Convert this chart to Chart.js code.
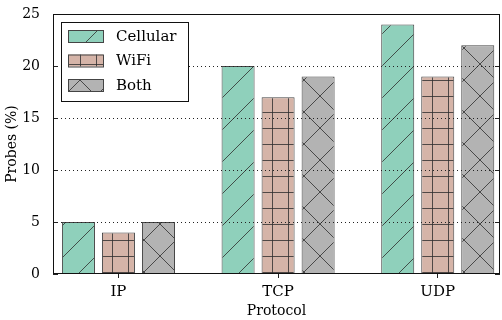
<!DOCTYPE html>
<html>
<head>
<meta charset="utf-8">
<script src="https://cdn.jsdelivr.net/npm/chart.js@4/dist/chart.umd.min.js"></script>
<style>
  html, body { margin: 0; padding: 0; background: #fff; }
  #wrap { width: 502px; height: 320px; }
</style>
</head>
<body>
<div id="wrap"><canvas id="chart" width="502" height="320"></canvas></div>
<script>
// ---- data ----
const categories = ['IP', 'TCP', 'UDP'];
const seriesNames = ['Cellular', 'WiFi', 'Both'];
const cellular = [5, 20, 24];
const wifi = [4, 17, 19];
const both = [5, 19, 22];
const yTicks = [0, 5, 10, 15, 20, 25];

const FONT = 'DejaVu Serif';
const HATCH = 'rgba(45,45,45,0.8)';
const EDGE = '#444';

// ---- hatch patterns (anchored to the canvas like matplotlib hatches) ----
function makeTile(size, bg, draw) {
    const c = document.createElement('canvas');
    c.width = size; c.height = size;
    const g = c.getContext('2d');
    g.fillStyle = bg;
    g.fillRect(0, 0, size, size);
    g.strokeStyle = HATCH;
    g.lineWidth = 1;
    draw(g, size);
    return c;
}

function diag(g, s) {
    // "/" lines, repeated so the tile joins up
    g.beginPath();
    for (let k = -1; k <= 1; k++) {
        g.moveTo(k * s - 1, s + 1);
        g.lineTo(k * s + s + 1, -1);
    }
    g.stroke();
}

function antiDiag(g, s) {
    g.beginPath();
    for (let k = -1; k <= 1; k++) {
        g.moveTo(k * s - 1, -1);
        g.lineTo(k * s + s + 1, s + 1);
    }
    g.stroke();
}

const ctx = document.getElementById('chart').getContext('2d');

const cellTile = makeTile(32, '#8fd0bb', (g, s) => diag(g, s));
const wifiTile = makeTile(16, '#d5b4a8', (g, s) => {
    g.beginPath();
    g.moveTo(0.5, 0); g.lineTo(0.5, s);
    g.moveTo(0, 0.5); g.lineTo(s, 0.5);
    g.stroke();
});
const bothTile = makeTile(32, '#b3b3b3', (g, s) => { diag(g, s); antiDiag(g, s); });

const fills = [
    ctx.createPattern(cellTile, 'repeat'),
    ctx.createPattern(wifiTile, 'repeat'),
    ctx.createPattern(bothTile, 'repeat')
];

// ---- frame, dotted grid, inward ticks, legend ----
const framePlugin = {
    id: 'frame',
    afterDatasetsDraw(chart) {
        const { ctx, chartArea: a, scales } = chart;
        const y = scales.y;
        ctx.save();

        // dotted grid on top of bars (interior ticks only)
        ctx.strokeStyle = '#222';
        ctx.lineWidth = 1;
        ctx.setLineDash([1, 3]);
        yTicks.slice(1, -1).forEach(v => {
            const py = Math.round(y.getPixelForValue(v)) + 0.5;
            ctx.beginPath();
            ctx.moveTo(a.left, py);
            ctx.lineTo(a.right, py);
            ctx.stroke();
        });
        ctx.setLineDash([]);

        // inward tick marks on both sides
        ctx.strokeStyle = '#222';
        yTicks.forEach(v => {
            const py = Math.round(y.getPixelForValue(v)) + 0.5;
            ctx.beginPath();
            ctx.moveTo(a.left, py); ctx.lineTo(a.left + 5, py);
            ctx.moveTo(a.right, py); ctx.lineTo(a.right - 5, py);
            ctx.stroke();
        });

        // box around the plot
        ctx.strokeStyle = '#111';
        ctx.lineWidth = 1;
        ctx.strokeRect(Math.round(a.left) + 0.5, Math.round(a.top) + 0.5,
            Math.round(a.right - a.left) - 1, Math.round(a.bottom - a.top) - 1);

        // legend box, upper left
        const lx = a.left + 8, ly = a.top + 8, lw = 127, lh = 79;
        ctx.fillStyle = '#fff';
        ctx.fillRect(lx, ly, lw, lh);
        ctx.strokeStyle = '#111';
        ctx.strokeRect(lx + 0.5, ly + 0.5, lw, lh);

        ctx.font = `15px "${FONT}"`;
        ctx.textBaseline = 'middle';
        ctx.textAlign = 'left';
        chart.data.datasets.forEach((ds, i) => {
            const cy = ly + 14 + i * 24.5;
            ctx.fillStyle = ds.backgroundColor;
            ctx.fillRect(lx + 7, cy - 6, 35, 12);
            ctx.strokeStyle = EDGE;
            ctx.strokeRect(lx + 7.5, cy - 5.5, 35, 12);
            ctx.fillStyle = '#000';
            ctx.fillText(ds.label, lx + 55, cy + 1);
        });

        ctx.restore();
    }
};

function toPoints(values) {
    return values.map((v, i) => ({ x: i, y: v }));
}

new Chart(ctx, {
    type: 'bar',
    data: {
        datasets: [
            { label: seriesNames[0], data: toPoints(cellular), backgroundColor: fills[0] },
            { label: seriesNames[1], data: toPoints(wifi), backgroundColor: fills[1] },
            { label: seriesNames[2], data: toPoints(both), backgroundColor: fills[2] }
        ]
    },
    options: {
        responsive: false,
        animation: false,
        events: [],
        layout: { padding: { top: 14, right: 2, left: 0, bottom: 0 } },
        datasets: {
            bar: {
                borderColor: EDGE,
                borderWidth: 1,
                borderSkipped: false,
                categoryPercentage: 0.752,
                barPercentage: 0.825
            }
        },
        scales: {
            x: {
                type: 'linear',
                min: -0.41,
                max: 2.39,
                offset: false,
                afterBuildTicks: (scale) => {
                    scale.ticks = categories.map((c, i) => ({ value: i }));
                },
                afterFit: (scale) => { scale.height = 46; },
                ticks: {
                    callback: (v) => categories[v],
                    color: '#000',
                    font: { family: FONT, size: 15 },
                    padding: 5,
                    maxRotation: 0
                },
                grid: {
                    offset: false,
                    drawOnChartArea: false,
                    drawTicks: true,
                    tickLength: 4,
                    color: '#222'
                },
                border: { display: false },
                title: {
                    display: true,
                    text: 'Protocol',
                    color: '#000',
                    font: { family: FONT, size: 14 },
                    padding: { top: 0, bottom: 0 }
                }
            },
            y: {
                min: 0,
                max: 25,
                afterBuildTicks: (scale) => {
                    scale.ticks = yTicks.map(v => ({ value: v }));
                },
                afterFit: (scale) => { scale.width = 53; },
                ticks: {
                    color: '#000',
                    font: { family: FONT, size: 14 },
                    padding: 5
                },
                grid: { display: false },
                border: { display: false },
                title: {
                    display: true,
                    text: 'Probes (%)',
                    color: '#000',
                    font: { family: FONT, size: 14 },
                    padding: { top: 4, bottom: 0 }
                }
            }
        },
        plugins: {
            legend: { display: false },
            tooltip: { enabled: false }
        }
    },
    plugins: [framePlugin]
});
</script>
</body>
</html>
